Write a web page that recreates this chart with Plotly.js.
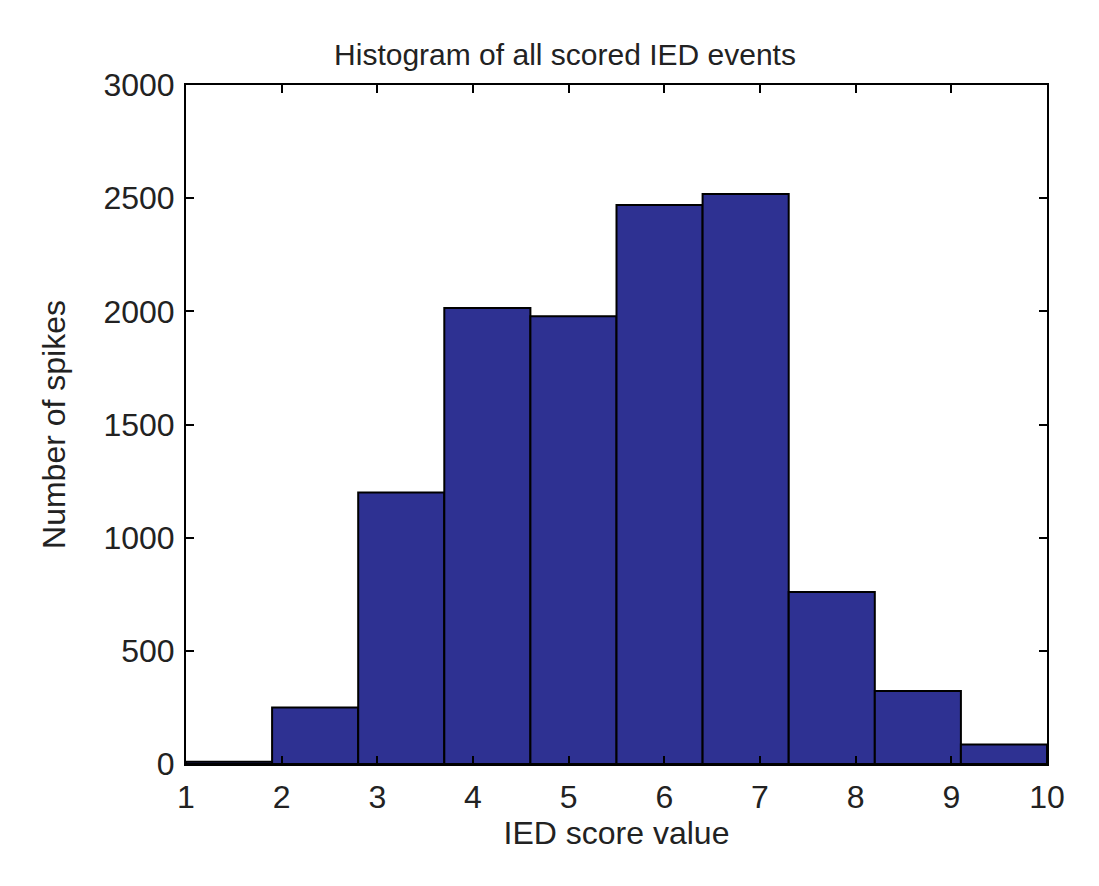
<!DOCTYPE html>
<html>
<head>
<meta charset="utf-8">
<script src="https://cdn.plot.ly/plotly-3.0.1.min.js"></script>
<style>
  html, body { margin: 0; padding: 0; background: #ffffff; }
  #chart { width: 1099px; height: 886px; }
</style>
</head>
<body>
<div id="chart"></div>
<script>
// IED score bins (centers of 10 bins between 1 and 10)
const binCenters = [1.45, 2.35, 3.25, 4.15, 5.05, 5.95, 6.85, 7.75, 8.65, 9.55];
const binWidth = 0.9;
// Number of spikes per bin
const spikeCounts = [10, 250, 1200, 2015, 1978, 2470, 2518, 760, 323, 86];
const xTicks = [1, 2, 3, 4, 5, 6, 7, 8, 9, 10];
const yTicks = [0, 500, 1000, 1500, 2000, 2500, 3000];

const FONT = 'Liberation Sans, Arial, Helvetica, sans-serif';

const trace = {
  type: 'bar',
  x: binCenters,
  y: spikeCounts,
  width: binCenters.map(() => binWidth),
  marker: { color: '#2e3192', line: { color: '#000000', width: 2 } },
  hoverinfo: 'x+y'
};

const layout = {
  width: 1099,
  height: 886,
  paper_bgcolor: '#ffffff',
  plot_bgcolor: '#ffffff',
  margin: { l: 186, r: 52, t: 85, b: 122, pad: 0 },
  showlegend: false,
  bargap: 0,
  font: { family: FONT, color: '#222222', size: 32 },
  title: {
    text: 'Histogram of all scored IED events',
    font: { family: FONT, size: 30, color: '#222222' },
    xref: 'container', yref: 'container',
    x: 565 / 1099, xanchor: 'center',
    y: 1 - 54 / 886, yanchor: 'middle'
  },
  xaxis: {
    range: [1, 10],
    tickvals: xTicks,
    ticktext: xTicks.map(String),
    ticks: 'inside', ticklen: 8, tickwidth: 2, tickcolor: '#000000',
    showline: true, linecolor: '#000000', linewidth: 2, mirror: 'ticks',
    showgrid: false, zeroline: false,
    tickfont: { family: FONT, size: 32, color: '#222222' },
    ticklabelstandoff: 4,
    title: { text: 'IED score value', font: { family: FONT, size: 32, color: '#222222' }, standoff: 2 },
    automargin: false
  },
  yaxis: {
    range: [0, 3000],
    tickvals: yTicks,
    ticktext: yTicks.map(String),
    ticks: 'inside', ticklen: 8, tickwidth: 2, tickcolor: '#000000',
    showline: true, linecolor: '#000000', linewidth: 2, mirror: 'ticks',
    showgrid: false, zeroline: false,
    tickfont: { family: FONT, size: 32, color: '#222222' },
    ticklabelstandoff: 3,
    title: { text: 'Number of spikes', font: { family: FONT, size: 32, color: '#222222' }, standoff: 28 },
    automargin: false
  }
};

Plotly.newPlot('chart', [trace], layout, { displayModeBar: false, staticPlot: true });
</script>
</body>
</html>
